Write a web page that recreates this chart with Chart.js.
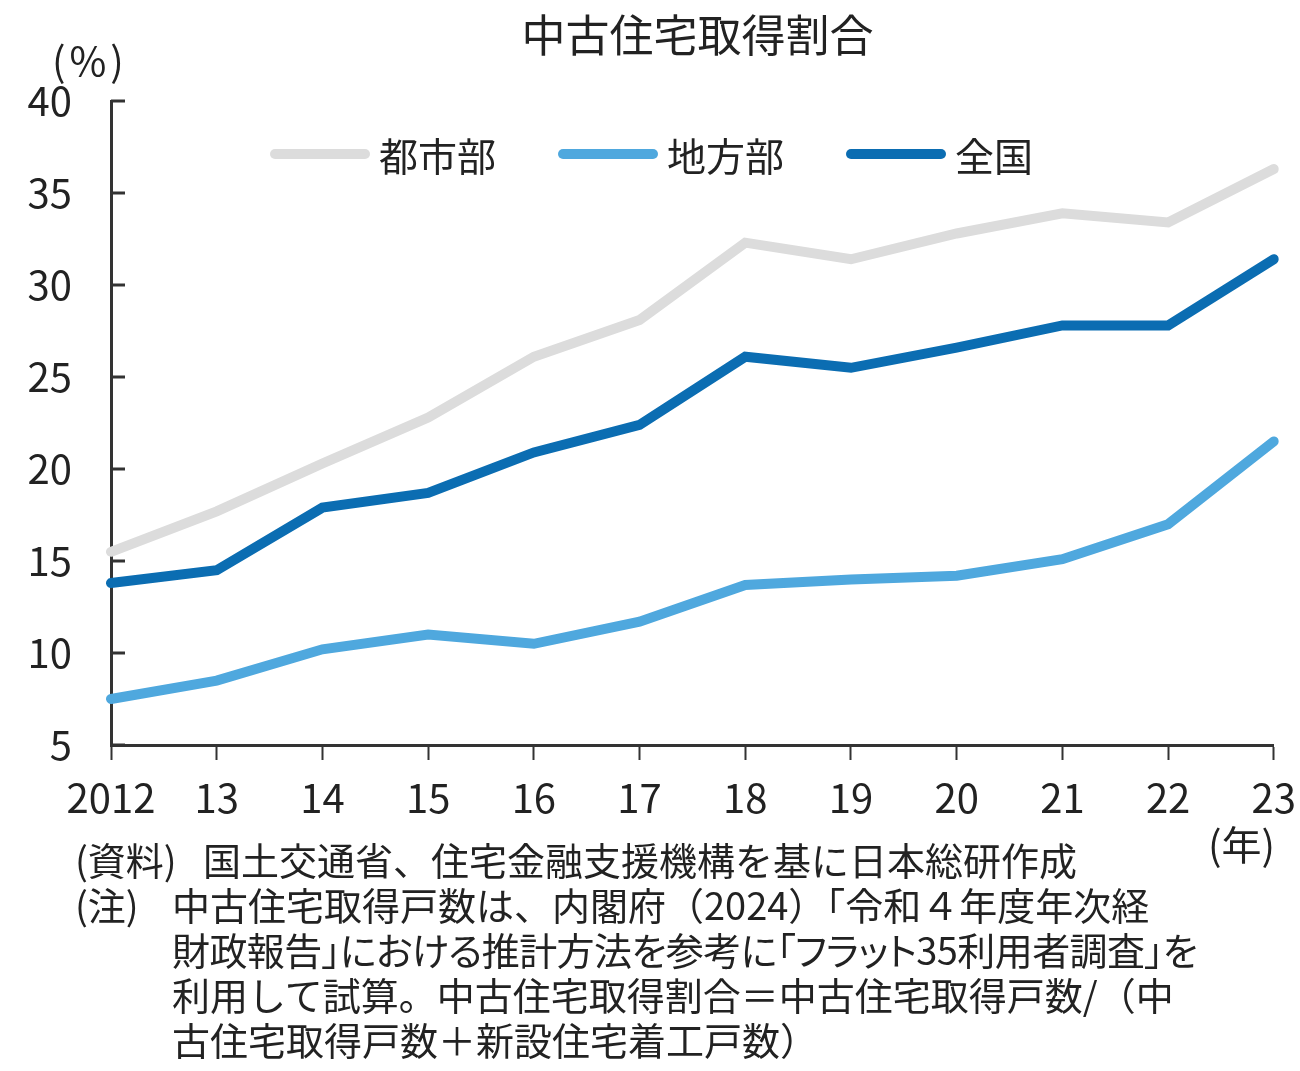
<!DOCTYPE html>
<html lang="ja">
<head>
<meta charset="UTF-8">
<title>中古住宅取得割合</title>
<script src="https://cdn.jsdelivr.net/npm/chart.js"></script>
<style>
  html, body { margin: 0; background: #fff; font-family: "Noto Sans CJK JP", sans-serif; color: #222; overflow: hidden; }
  #wrap { position: relative; width: 1300px; height: 1071px; overflow: hidden; }
  #chart { position: absolute; left: 0; top: 0; }
  .t { position: absolute; white-space: nowrap; }
  #title { left: 0; width: 1395px; top: 1px; text-align: center; font-size: 44px; }
  #unit { left: 52px; top: 30px; font-size: 40px; letter-spacing: 4px; }
  #nen { left: 1208px; top: 814px; font-size: 40px; }
  #legend { position: absolute; left: 270px; top: 128px; display: flex; font-size: 39px; line-height: 52px; }
  #legend .item { display: flex; align-items: center; margin-right: 62px; }
  #legend .sw { width: 100px; height: 10px; border-radius: 5px; margin-right: 9px; }
  #notes { position: absolute; left: 0; top: 0; font-size: 38px; }
  #notes div { position: absolute; white-space: nowrap; line-height: 45px; }
  #notes .p { font-feature-settings: "palt"; }
</style>
</head>
<body>
<div id="wrap">
  <canvas id="chart" width="1310" height="840"></canvas>
  <div class="t" id="title">中古住宅取得割合</div>
  <div class="t" id="unit">(%)</div>
  <div id="legend"></div>
  <div class="t" id="nen">(年)</div>
  <div id="notes">
    <div class="p" style="left:75px;top:836px">(資料)</div>
    <div style="left:203px;top:836px">国土交通省、住宅金融支援機構を基に日本総研作成</div>
    <div class="p" style="left:75px;top:881px">(注)</div>
    <div style="left:172px;top:881px">中古住宅取得戸数は、内閣府（2024）「令和４年度年次経</div>
    <div class="p" style="left:172px;top:926px;letter-spacing:-0.6px">財政報告」における推計方法を参考に「フラット35利用者調査」を</div>
    <div style="left:172px;top:971px">利用して試算。中古住宅取得割合＝中古住宅取得戸数/（中</div>
    <div style="left:172px;top:1016px">古住宅取得戸数＋新設住宅着工戸数）</div>
  </div>
</div>
<script>
const years = ['2012', '13', '14', '15', '16', '17', '18', '19', '20', '21', '22', '23'];
const toshibu = [15.5, 17.7, 20.3, 22.8, 26.1, 28.1, 32.3, 31.4, 32.8, 33.9, 33.4, 36.3];
const chihobu = [7.5, 8.5, 10.2, 11.0, 10.5, 11.7, 13.7, 14.0, 14.2, 15.1, 17.0, 21.5];
const zenkoku = [13.8, 14.5, 17.9, 18.7, 20.9, 22.4, 26.1, 25.5, 26.6, 27.8, 27.8, 31.4];

const seriesNames = ['都市部', '地方部', '全国'];
const seriesColors = ['#dcdcdc', '#4fa8de', '#0b6db2'];
const seriesData = [toshibu, chihobu, zenkoku];

const datasets = seriesNames.map((name, i) => ({
    label: name,
    data: seriesData[i],
    borderColor: seriesColors[i],
    backgroundColor: seriesColors[i],
    borderWidth: 10,
    borderCapStyle: 'round',
    borderJoinStyle: 'miter',
    pointRadius: 0,
    tension: 0,
    fill: false
}));

// legend as html, built from the datasets
const legend = document.getElementById('legend');
datasets.forEach(ds => {
    const item = document.createElement('div');
    item.className = 'item';
    item.innerHTML = '<div class="sw" style="background:' + ds.borderColor + '"></div><span>' + ds.label + '</span>';
    legend.appendChild(item);
});

// y axis ticks point inward
const innerTicks = {
    id: 'innerTicks',
    afterDraw(chart) {
        const ctx = chart.ctx;
        const y = chart.scales.y;
        const left = chart.chartArea.left;
        ctx.save();
        ctx.strokeStyle = '#333';
        ctx.lineWidth = 3;
        y.ticks.forEach(t => {
            const py = y.getPixelForValue(t.value);
            ctx.beginPath();
            ctx.moveTo(left, py);
            ctx.lineTo(left + 14, py);
            ctx.stroke();
        });
        ctx.restore();
    }
};

const font = { family: '"Noto Sans CJK JP", sans-serif', size: 40 };

new Chart(document.getElementById('chart'), {
    type: 'line',
    data: { labels: years, datasets: datasets },
    options: {
        responsive: false,
        animation: false,
        layout: { padding: { left: 0, right: 15, top: 101, bottom: 0 } },
        plugins: {
            legend: { display: false },
            tooltip: { enabled: false }
        },
        scales: {
            x: {
                offset: false,
                grid: { drawOnChartArea: false, drawTicks: true, tickLength: 15, tickColor: '#333', tickWidth: 2 },
                border: { color: '#333', width: 3 },
                ticks: { color: '#222', font: font, padding: 14, maxRotation: 0, autoSkip: false },
                afterFit(scale) { scale.height = 95; }
            },
            y: {
                min: 5,
                max: 40,
                grid: { display: true, drawOnChartArea: false, drawTicks: false },
                border: { color: '#333', width: 3 },
                ticks: { stepSize: 5, color: '#222', font: font, padding: 39 },
                afterFit(scale) { scale.width = 111; }
            }
        }
    },
    plugins: [innerTicks]
});
</script>
</body>
</html>
